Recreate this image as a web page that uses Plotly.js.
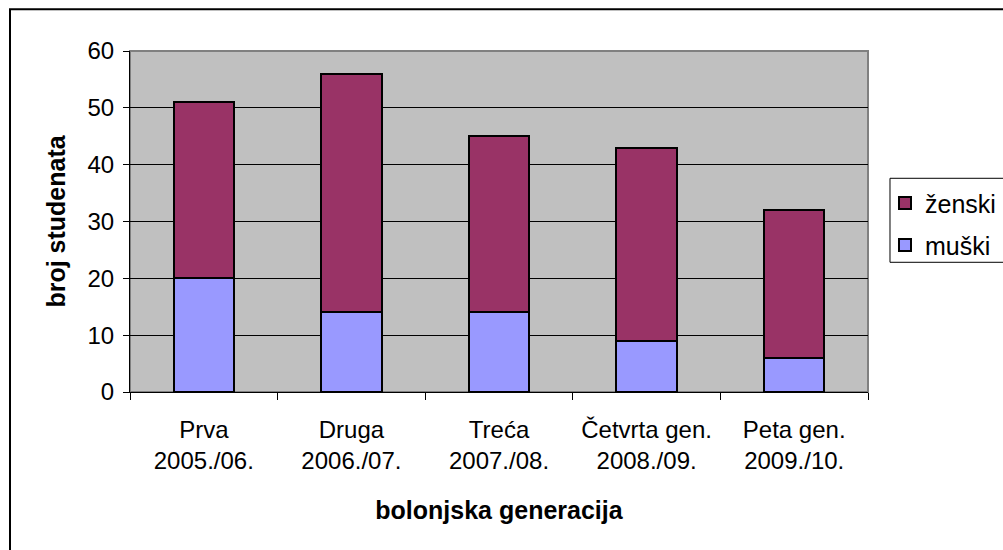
<!DOCTYPE html>
<html>
<head>
<meta charset="utf-8">
<script src="https://cdn.plot.ly/plotly-3.0.1.min.js"></script>
<style>
  html, body { margin: 0; padding: 0; background: #ffffff; }
  #chart { width: 1003px; height: 550px; }
</style>
</head>
<body>
<div id="chart"></div>
<script>
// Data
const categories = [
  "Prva<br>2005./06.",
  "Druga<br>2006./07.",
  "Treća<br>2007./08.",
  "Četvrta gen.<br>2008./09.",
  "Peta gen.<br>2009./10."
];
const muski = [20, 14, 14, 9, 6];
const zenski = [31, 42, 31, 34, 26];
const yTicks = [0, 10, 20, 30, 40, 50, 60];

const FONT = "Liberation Sans, Arial, sans-serif";

const traces = [
  {
    type: "bar", name: "muški", x: categories, y: muski,
    marker: { color: "#9999FF", line: { color: "#000000", width: 2 } },
    legend: "legend2", hoverinfo: "skip"
  },
  {
    type: "bar", name: "ženski", x: categories, y: zenski,
    marker: { color: "#993366", line: { color: "#000000", width: 2 } },
    legend: "legend", hoverinfo: "skip"
  }
];

const layout = {
  width: 1003, height: 550,
  margin: { l: 130, r: 135, t: 51, b: 158, pad: 0, autoexpand: false },
  paper_bgcolor: "#ffffff",
  plot_bgcolor: "#C0C0C0",
  barmode: "stack",
  bargap: 0.59,
  font: { family: FONT, size: 24, color: "#000000" },
  xaxis: {
    type: "category",
    tickson: "boundaries",
    ticks: "outside", ticklen: 7, tickcolor: "#000000", tickwidth: 1,
    ticklabelstandoff: 16,
    showline: true, linecolor: "#000000", linewidth: 1,
    showgrid: false, zeroline: false, automargin: false,
    tickfont: { family: FONT, size: 24, color: "#000000" },
    title: { text: "bolonjska generacija", standoff: 28,
             font: { family: FONT, size: 25, color: "#000000", weight: "bold" } }
  },
  yaxis: {
    range: [0, 60],
    tickvals: yTicks,
    ticks: "outside", ticklen: 6, tickcolor: "#000000", tickwidth: 1,
    ticklabelstandoff: 4,
    showline: true, linecolor: "#000000", linewidth: 1,
    showgrid: true, gridcolor: "#000000", gridwidth: 1,
    zeroline: false, automargin: false,
    tickfont: { family: FONT, size: 24, color: "#000000" },
    title: { text: "broj studenata", standoff: 14,
             font: { family: FONT, size: 25, color: "#000000", weight: "bold" } }
  },
  showlegend: true,
  legend: {
    x: 1.023, xanchor: "left", y: 0.5534, yanchor: "middle",
    bgcolor: "rgba(0,0,0,0)", borderwidth: 0,
    font: { family: FONT, size: 25, color: "#000000" }
  },
  legend2: {
    x: 1.023, xanchor: "left", y: 0.430, yanchor: "middle",
    bgcolor: "rgba(0,0,0,0)", borderwidth: 0,
    font: { family: FONT, size: 25, color: "#000000" }
  },
  shapes: [
    { type: "rect", xref: "paper", yref: "paper", x0: 0, x1: 1, y0: 0, y1: 1,
      line: { color: "#808080", width: 2 }, fillcolor: "rgba(0,0,0,0)", layer: "below" },
    { type: "rect", xref: "paper", yref: "paper", x0: 1.0298, x1: 1.20, y0: 0.3804, y1: 0.6267,
      line: { color: "#000000", width: 1 }, fillcolor: "rgba(0,0,0,0)" },
    { type: "rect", xref: "paper", yref: "paper", x0: -0.1626, x1: 1.20, y0: -0.50, y1: 1.1223,
      line: { color: "#000000", width: 2 }, fillcolor: "rgba(0,0,0,0)" }
  ]
};

Plotly.newPlot("chart", traces, layout, { displayModeBar: false, staticPlot: true });
</script>
</body>
</html>
